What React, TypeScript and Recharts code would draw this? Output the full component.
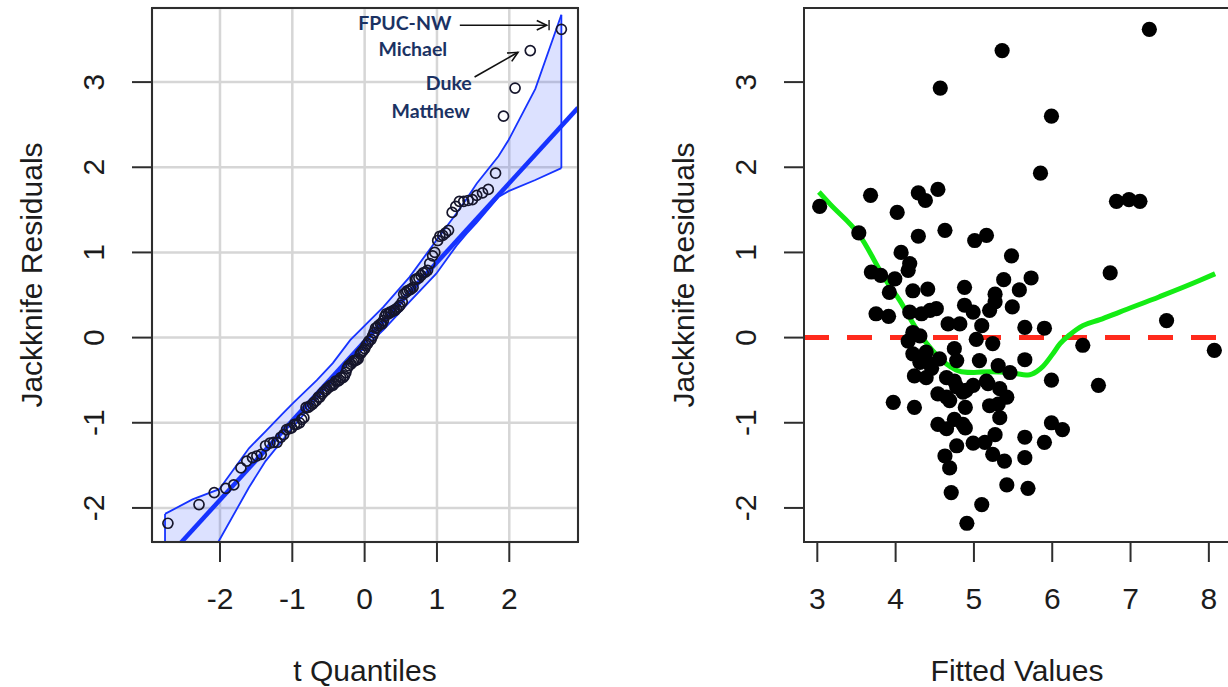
import React from 'react';
import {
  ComposedChart,
  Scatter,
  Line,
  Area,
  XAxis,
  YAxis,
  CartesianGrid,
  ReferenceLine,
} from 'recharts';

// ---------- data ----------
// Fitted values and jackknife (studentized) residuals, one entry per observation.
const fittedValues = [
  7.24, 5.36, 4.57, 5.99, 5.85, 6.82, 6.98, 7.12, 3.03, 3.68,
  4.02, 4.29, 4.38, 4.54, 3.53, 4.29, 4.63, 5.01, 5.16, 5.48,
  6.74, 4.07, 4.18, 4.16, 3.69, 3.81, 3.99, 3.92, 4.22, 4.41,
  4.88, 5.38, 5.73, 5.27, 5.58, 3.75, 3.91, 4.18, 4.33, 4.52,
  4.88, 4.99, 5.2, 5.27, 5.49, 4.67, 4.82, 5.1, 5.65, 5.9,
  7.46, 4.44, 4.22, 4.31, 4.16, 5.03, 5.24, 6.39, 8.07, 4.22,
  4.39, 4.75, 4.78, 4.31, 4.56, 5.07, 5.31, 5.65, 4.44, 4.24,
  4.39, 4.65, 4.75, 5.16, 5.46, 5.99, 6.59, 4.54, 4.65, 4.78,
  4.9, 4.86, 4.99, 5.18, 5.33, 5.42, 4.69, 3.97, 4.24, 4.89,
  5.2, 5.31, 5.33, 4.54, 4.65, 4.75, 4.86, 4.89, 5.99, 6.13,
  5.27, 5.14, 4.99, 5.65, 5.9, 4.78, 4.63, 4.69, 5.24, 5.39,
  5.65, 4.71, 5.42, 5.69, 5.1, 4.91, 4.46,
];

const jackknifeResiduals = [
  3.62, 3.37, 2.93, 2.6, 1.93, 1.6, 1.62, 1.6, 1.54, 1.67,
  1.47, 1.7, 1.61, 1.74, 1.23, 1.19, 1.26, 1.14, 1.2, 0.96,
  0.76, 1.0, 0.87, 0.79, 0.77, 0.73, 0.69, 0.53, 0.55, 0.57,
  0.59, 0.68, 0.7, 0.51, 0.56, 0.28, 0.25, 0.3, 0.28, 0.34,
  0.38, 0.3, 0.32, 0.42, 0.36, 0.16, 0.16, 0.14, 0.12, 0.11,
  0.2, 0.32, 0.06, 0.02, -0.04, -0.02, -0.07, -0.09, -0.15, -0.19,
  -0.17, -0.13, -0.27, -0.29, -0.25, -0.27, -0.33, -0.26, -0.31, -0.45,
  -0.47, -0.47, -0.51, -0.51, -0.41, -0.5, -0.56, -0.66, -0.7, -0.58,
  -0.62, -0.64, -0.56, -0.54, -0.6, -0.7, -0.74, -0.76, -0.82, -0.82,
  -0.8, -0.78, -0.94, -1.02, -1.07, -0.96, -1.02, -1.06, -1.0, -1.08,
  -1.14, -1.23, -1.24, -1.17, -1.23, -1.27, -1.39, -1.53, -1.37, -1.45,
  -1.41, -1.82, -1.73, -1.77, -1.96, -2.18, -0.36,
];

// Theoretical t quantiles for the ordered residuals.
const tQuantiles = [
  -2.72, -2.29, -2.08, -1.92, -1.81, -1.71, -1.63, -1.55, -1.49, -1.43,
  -1.37, -1.31, -1.26, -1.21, -1.16, -1.12, -1.08, -1.04, -1.01, -0.97,
  -0.94, -0.9, -0.87, -0.84, -0.81, -0.78, -0.75, -0.72, -0.7, -0.67,
  -0.64, -0.62, -0.59, -0.57, -0.54, -0.52, -0.49, -0.47, -0.44, -0.42,
  -0.4, -0.37, -0.35, -0.33, -0.3, -0.28, -0.26, -0.24, -0.22, -0.19,
  -0.17, -0.15, -0.13, -0.11, -0.09, -0.06, -0.04, -0.02, 0,
  0.02, 0.04, 0.06, 0.09, 0.11, 0.13, 0.15, 0.17, 0.19, 0.22,
  0.24, 0.26, 0.28, 0.3, 0.33, 0.35, 0.37, 0.4, 0.42, 0.44,
  0.47, 0.49, 0.52, 0.54, 0.57, 0.59, 0.62, 0.64, 0.67, 0.7,
  0.72, 0.75, 0.78, 0.81, 0.84, 0.87, 0.9, 0.94, 0.97, 1.01,
  1.04, 1.08, 1.12, 1.16, 1.21, 1.26, 1.31, 1.37, 1.43, 1.49,
  1.55, 1.63, 1.71, 1.81, 1.92, 2.08, 2.29, 2.72,
];

// Pointwise confidence envelope around the QQ line.
const envelopeQuantiles = [-2.76, -2.38, -2.01, -1.6, -1.37, -1.13, -0.99, -0.66, -0.44, -0.2, 0.26, 0.62, 0.99, 1.27, 1.41, 1.55, 1.85, 1.99, 2.36, 2.72];
const envelopeLower = [-3.3, -2.92, -2.38, -1.76, -1.45, -1.2, -1.05, -0.72, -0.5, -0.28, 0.09, 0.42, 0.75, 1.08, 1.22, 1.35, 1.65, 1.72, 1.85, 1.99];
const envelopeUpper = [-2.07, -1.9, -1.78, -1.3, -1.1, -0.89, -0.77, -0.5, -0.3, -0.03, 0.36, 0.71, 1.14, 1.46, 1.63, 1.81, 2.13, 2.32, 2.92, 3.79];

// Robust QQ reference line.
const qqLineIntercept = -0.046;
const qqLineSlope = 0.93;

// Lowess smooth of residuals against fitted values.
const lowessFitted = [3.02, 3.16, 3.54, 3.87, 4.05, 4.28, 4.47, 4.65, 4.84, 5.0, 5.2, 5.45, 5.69, 5.8, 5.88, 6.0, 6.1, 6.22, 6.39, 6.61, 6.86, 7.37, 7.88, 8.08];
const lowessResidual = [1.71, 1.57, 1.2, 0.68, 0.44, 0.08, -0.15, -0.31, -0.4, -0.41, -0.4, -0.41, -0.44, -0.4, -0.34, -0.2, -0.07, 0.03, 0.14, 0.21, 0.3, 0.48, 0.67, 0.75];

// Axes
const quantileTicks = [-2, -1, 0, 1, 2];
const fittedTicks = [3, 4, 5, 6, 7, 8];
const residualTicks = [-2, -1, 0, 1, 2, 3];
const quantileDomain: [number, number] = [-2.94, 2.95];
const fittedDomain: [number, number] = [2.83, 8.27];
const residualDomain: [number, number] = [-2.4, 3.87];

// Call-outs for the largest residuals
const annotationLabels = [
  { x: 0.555, y: 3.7, text: 'FPUC-NW' },
  { x: 0.666, y: 3.4, text: 'Michael' },
  { x: 1.163, y: 2.99, text: 'Duke' },
  { x: 0.914, y: 2.67, text: 'Matthew' },
];
const annotationArrows = [
  { from: { x: 1.316, y: 3.668 }, to: { x: 2.517, y: 3.668 } },
  { from: { x: 1.52, y: 3.06 }, to: { x: 2.12, y: 3.35 } },
];
const annotationTick = [{ x: 2.55, y: 3.73 }, { x: 2.55, y: 3.61 }];

// ---------- derived tables ----------
const scatterData = fittedValues.map((x, i) => ({ x, y: jackknifeResiduals[i] }));
const sortedResiduals = [...jackknifeResiduals].sort((a, b) => a - b);
const qqData = tQuantiles.map((x, i) => ({ x, y: sortedResiduals[i] }));
const envelopeData = envelopeQuantiles.map((x, i) => ({ x, lo: envelopeLower[i], hi: envelopeUpper[i] }));
const lowessData = lowessFitted.map((x, i) => ({ x, y: lowessResidual[i] }));
const qqLineData = quantileDomain.map((x) => ({ x, y: qqLineIntercept + qqLineSlope * x }));
const envFirst = envelopeData[0];
const envLast = envelopeData[envelopeData.length - 1];

// ---------- styling ----------
const FONT = '"Liberation Sans", Arial, Helvetica, sans-serif';
const TEXT = '#1c1c1c';
const AXIS = '#2e2e2e';
const BLUE = '#1633ff';
const CHART_W = 600;
const CHART_H = 687;
const MARGIN = { top: 8, right: 22, bottom: 0, left: 0 };
const Y_AXIS_W = 152;
const X_AXIS_H = 145;
const FS = 30;

function XTick(props: any) {
  const { x, payload } = props;
  return (
    <text x={x} y={609} textAnchor="middle" fontSize={FS} fontFamily={FONT} fill={TEXT}>
      {String(payload.value)}
    </text>
  );
}

function YTick(props: any) {
  const { y, payload } = props;
  const bx = 104;
  return (
    <text
      x={bx}
      y={y}
      transform={`rotate(-90 ${bx} ${y})`}
      textAnchor="middle"
      fontSize={FS}
      fontFamily={FONT}
      fill={TEXT}
    >
      {String(payload.value)}
    </text>
  );
}

function xTitle(text: string) {
  return (p: any) => {
    const vb = p.viewBox || {};
    return (
      <text x={vb.x + vb.width / 2} y={681} textAnchor="middle" fontSize={FS} fontFamily={FONT} fill={TEXT}>
        {text}
      </text>
    );
  };
}

function yTitle(text: string) {
  return (p: any) => {
    const vb = p.viewBox || {};
    const cy = vb.y + vb.height / 2;
    const bx = 42;
    return (
      <text
        x={bx}
        y={cy}
        transform={`rotate(-90 ${bx} ${cy})`}
        textAnchor="middle"
        fontSize={FS}
        fontFamily={FONT}
        fill={TEXT}
      >
        {text}
      </text>
    );
  };
}

function ArrowShape(p: any) {
  const { x1, y1, x2, y2 } = p;
  const ang = Math.atan2(y2 - y1, x2 - x1);
  const len = 11;
  const spread = Math.PI / 7;
  const ax = x2 - len * Math.cos(ang - spread);
  const ay = y2 - len * Math.sin(ang - spread);
  const bx = x2 - len * Math.cos(ang + spread);
  const by = y2 - len * Math.sin(ang + spread);
  return (
    <g>
      <line x1={x1} y1={y1} x2={x2} y2={y2} stroke="#111" strokeWidth={1.6} />
      <polyline points={`${ax},${ay} ${x2},${y2} ${bx},${by}`} fill="none" stroke="#111" strokeWidth={1.6} />
    </g>
  );
}

function LabelShape(p: any) {
  return (
    <text
      x={p.cx}
      y={p.cy}
      textAnchor="middle"
      dominantBaseline="central"
      fontSize={19.5}
      fontWeight={700}
      fontFamily='Lato, "Open Sans", sans-serif'
      fill="#1b3263"
    >
      {p.payload.text}
    </text>
  );
}

const tickLine = { stroke: AXIS, strokeWidth: 2 };

function QQPanel() {
  return (
    <ComposedChart width={CHART_W} height={CHART_H} margin={MARGIN}>
      <CartesianGrid stroke="#d6d6d6" strokeWidth={2.5} />
      <XAxis
        type="number"
        dataKey="x"
        domain={quantileDomain}
        ticks={quantileTicks}
        allowDataOverflow
        height={X_AXIS_H}
        tickSize={20}
        tickLine={tickLine}
        axisLine={false}
        tick={<XTick />}
        label={{ content: xTitle('t Quantiles') }}
      />
      <YAxis
        type="number"
        dataKey="y"
        domain={residualDomain}
        ticks={residualTicks}
        allowDataOverflow
        width={Y_AXIS_W}
        tickSize={20}
        tickLine={tickLine}
        axisLine={false}
        tick={<YTick />}
        label={{ content: yTitle('Jackknife Residuals') }}
      />
      <Scatter
        data={qqData}
        dataKey="y"
        isAnimationActive={false}
        shape={(p: any) => (
          <circle cx={p.cx} cy={p.cy} r={5} fill="none" stroke="#16162c" strokeWidth={1.7} />
        )}
      />
      <Area
        data={envelopeData}
        dataKey={(d: any) => [d.lo, d.hi]}
        type="linear"
        fill={BLUE}
        fillOpacity={0.15}
        stroke={BLUE}
        strokeWidth={1.8}
        isAnimationActive={false}
        dot={false}
        activeDot={false}
      />
      <ReferenceLine
        segment={[{ x: envFirst.x, y: envFirst.lo }, { x: envFirst.x, y: envFirst.hi }]}
        stroke={BLUE}
        strokeWidth={1.8}
        ifOverflow="hidden"
      />
      <ReferenceLine
        segment={[{ x: envLast.x, y: envLast.lo }, { x: envLast.x, y: envLast.hi }]}
        stroke={BLUE}
        strokeWidth={1.8}
        ifOverflow="hidden"
      />
      <Line
        data={qqLineData}
        dataKey="y"
        type="linear"
        stroke={BLUE}
        strokeWidth={4.5}
        dot={false}
        activeDot={false}
        isAnimationActive={false}
      />
      {annotationArrows.map((a, i) => (
        <ReferenceLine key={i} segment={[a.from, a.to]} shape={ArrowShape} ifOverflow="visible" />
      ))}
      <ReferenceLine segment={annotationTick} stroke="#111" strokeWidth={1.4} ifOverflow="visible" />
      <Scatter data={annotationLabels} dataKey="y" isAnimationActive={false} shape={LabelShape} />
    </ComposedChart>
  );
}

function FittedPanel() {
  return (
    <ComposedChart width={CHART_W} height={CHART_H} margin={MARGIN}>
      <XAxis
        type="number"
        dataKey="x"
        domain={fittedDomain}
        ticks={fittedTicks}
        allowDataOverflow
        height={X_AXIS_H}
        tickSize={20}
        tickLine={tickLine}
        axisLine={false}
        tick={<XTick />}
        label={{ content: xTitle('Fitted Values') }}
      />
      <YAxis
        type="number"
        dataKey="y"
        domain={residualDomain}
        ticks={residualTicks}
        allowDataOverflow
        width={Y_AXIS_W}
        tickSize={20}
        tickLine={tickLine}
        axisLine={false}
        tick={<YTick />}
        label={{ content: yTitle('Jackknife Residuals') }}
      />
      <Scatter
        data={scatterData}
        dataKey="y"
        isAnimationActive={false}
        shape={(p: any) => <circle cx={p.cx} cy={p.cy} r={7.6} fill="#000" />}
      />
      <ReferenceLine y={0} stroke="#ff2a1c" strokeWidth={5} strokeDasharray="25 18" />
      <Line
        data={lowessData}
        dataKey="y"
        type="monotone"
        stroke="#14ec14"
        strokeWidth={5}
        dot={false}
        activeDot={false}
        isAnimationActive={false}
      />
    </ComposedChart>
  );
}

const boxStyle = (left: number): React.CSSProperties => ({
  position: 'absolute',
  left,
  top: 7,
  width: 428,
  height: 536,
  border: `2px solid ${AXIS}`,
  boxSizing: 'border-box',
  pointerEvents: 'none',
});

export default function App() {
  return (
    <div
      style={{
        position: 'fixed',
        left: 0,
        top: 0,
        width: 1228,
        height: 687,
        overflow: 'hidden',
        background: '#fff',
        fontFamily: FONT,
      }}
    >
      <div style={{ position: 'absolute', left: 0, top: 0 }}>
        <QQPanel />
      </div>
      <div style={{ position: 'absolute', left: 652, top: 0 }}>
        <FittedPanel />
      </div>
      <div style={boxStyle(151)} />
      <div style={boxStyle(803)} />
    </div>
  );
}
